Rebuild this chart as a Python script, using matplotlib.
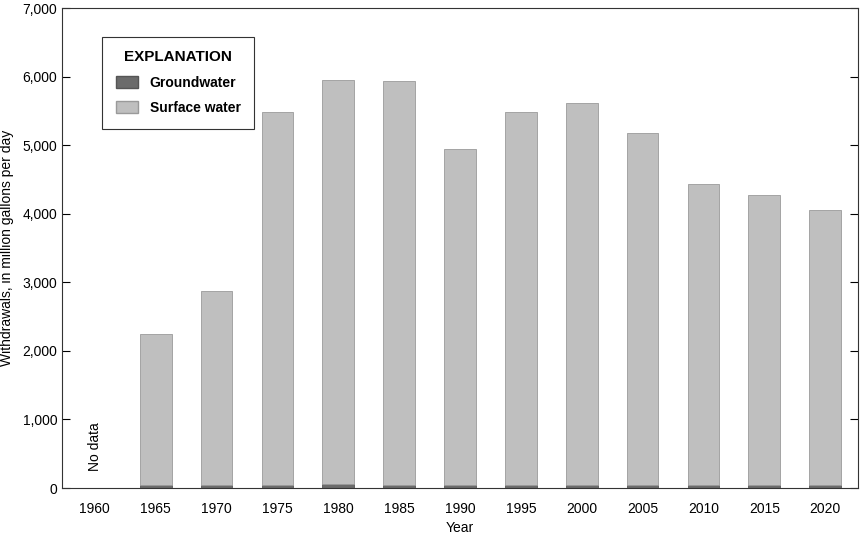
import matplotlib.pyplot as plt
from matplotlib.patches import Patch

years = [1965, 1970, 1975, 1980, 1985, 1990, 1995, 2000, 2005, 2010, 2015, 2020]
groundwater = [40, 45, 40, 55, 45, 45, 40, 45, 40, 45, 40, 40]
surface = [2210, 2835, 5440, 5895, 5885, 4905, 5450, 5565, 5130, 4395, 4230, 4010]
tick_years = list(range(1960, 2021, 5))

plt.rcParams["font.family"] = ["Liberation Sans Narrow", "Liberation Sans", "DejaVu Sans"]
plt.rcParams["font.size"] = 10

fig = plt.figure(figsize=(8.66, 5.37), dpi=100)
ax = fig.add_axes([62 / 866, 1 - 488 / 537, 796 / 866, 480 / 537])

gw_col, sw_col = "#6b6b6b", "#bfbfbf"
ax.bar(years, groundwater, width=2.6, color=gw_col, edgecolor="#555555", linewidth=0.6, zorder=2)
ax.bar(years, surface, width=2.6, bottom=groundwater, color=sw_col, edgecolor="#9a9a9a", linewidth=0.6, zorder=2)

ax.set_xlim(1957.3, 2022.7)
ax.set_ylim(0, 7000)
ax.set_xticks(tick_years)
ax.set_yticks(range(0, 7001, 1000))
ax.set_yticklabels([f"{v:,}" for v in range(0, 7001, 1000)])
ax.tick_params(axis="y", direction="in", length=6, right=True, width=0.8)
ax.tick_params(axis="x", length=0, pad=10)
for s in ax.spines.values():
    s.set_linewidth(0.8)
    s.set_color("#333333")

ax.set_xlabel("Year", labelpad=4)
ax.set_ylabel("Withdrawals, in million gallons per day", labelpad=6)
ax.text(1960, 250, "No data", rotation=90, ha="center", va="bottom", fontsize=10)

leg = ax.legend(handles=[Patch(facecolor=gw_col, edgecolor="#555555", label="Groundwater"),
                         Patch(facecolor=sw_col, edgecolor="#9a9a9a", label="Surface water")],
                title="EXPLANATION", loc="upper left", bbox_to_anchor=(0.042, 0.955),
                fancybox=False, edgecolor="#333333", framealpha=1,
                handlelength=1.6, handleheight=1.0, borderpad=1.0, labelspacing=0.8)
leg.get_title().set_fontweight("bold")
leg.get_title().set_fontsize(11)
for t in leg.get_texts():
    t.set_fontweight("bold")
leg.get_frame().set_linewidth(0.8)

fig.savefig("out.png", dpi=100)
